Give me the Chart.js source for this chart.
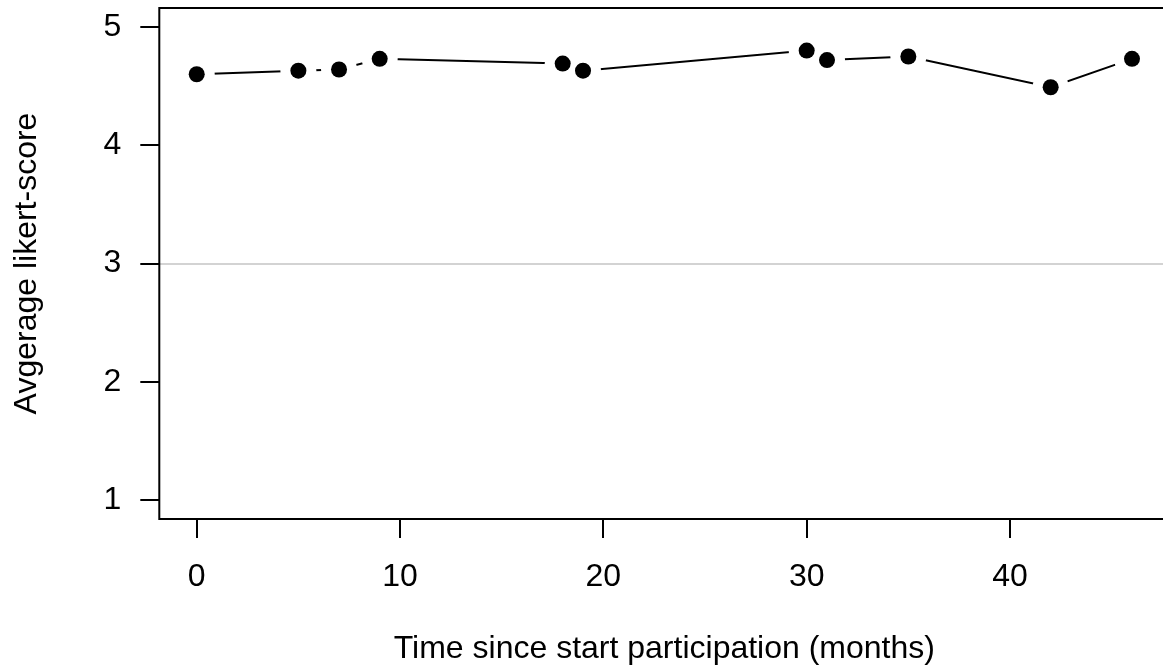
<!DOCTYPE html>
<html>
<head>
<meta charset="utf-8">
<script src="https://cdn.jsdelivr.net/npm/chart.js@4.4.1/dist/chart.umd.min.js"></script>
<style>
  html, body { margin: 0; padding: 0; background: #fff; overflow: hidden; }
  canvas { display: block; }
</style>
</head>
<body>
<canvas id="chart" width="1176" height="668"></canvas>
<script>
// months since start and the average likert score at each visit
const months = [0, 5, 7, 9, 18, 19, 30, 31, 35, 42, 46];
const scores = [4.60, 4.63, 4.64, 4.73, 4.69, 4.63, 4.80, 4.72, 4.75, 4.49, 4.73];
const xTicks = [0, 10, 20, 30, 40];
const yTicks = [1, 2, 3, 4, 5];

const points = months.map((m, i) => ({ x: m, y: scores[i] }));

Chart.defaults.font.family = "'Liberation Sans', Arial, Helvetica, sans-serif";
Chart.defaults.color = "#000";

// box round the plot region, like R's box()
const boxPlugin = {
  id: "box",
  afterDatasetsDraw(chart) {
    const { ctx, chartArea: a } = chart;
    ctx.save();
    ctx.strokeStyle = "#000";
    ctx.lineWidth = 2;
    ctx.strokeRect(a.left, a.top, a.right - a.left, a.bottom - a.top);
    ctx.restore();
  },
};

// no extra room for overhanging labels, the plot region is fixed
const noPad = (s) => {
  s.paddingTop = 0;
  s.paddingBottom = 0;
  s.paddingLeft = 0;
  s.paddingRight = 0;
};

const tickFont = { size: 32 };

new Chart(document.getElementById("chart"), {
  type: "line",
  data: {
    datasets: [
      {
        // the dots
        data: points,
        showLine: false,
        pointRadius: 8,
        pointBackgroundColor: "#000",
        pointBorderWidth: 0,
        order: 0,
      },
      {
        // line with white halos so it stops short of the dots (type = "b")
        data: points,
        borderColor: "#000",
        borderWidth: 2,
        tension: 0,
        pointRadius: 18,
        pointBackgroundColor: "#fff",
        pointBorderWidth: 0,
        order: 1,
      },
    ],
  },
  options: {
    responsive: false,
    animation: false,
    events: [],
    layout: { autoPadding: false, padding: { top: 8, right: 6.6, left: 0, bottom: 0 } },
    plugins: { legend: { display: false }, tooltip: { enabled: false } },
    scales: {
      x: {
        type: "linear",
        min: -1.84,
        max: 47.84,
        afterBuildTicks: (s) => { s.ticks = xTicks.map((v) => ({ value: v })); },
        afterFit: (s) => { s.height = 149; noPad(s); },
        border: { display: false },
        grid: { drawOnChartArea: false, tickLength: 19, tickColor: "#000", lineWidth: 2 },
        ticks: { font: tickFont, padding: 20, maxRotation: 0, color: "#000" },
        title: {
          display: true,
          text: "Time since start participation (months)",
          font: { size: 32 },
          padding: { top: 0, bottom: 0 },
          color: "#000",
        },
      },
      y: {
        type: "linear",
        min: 0.84,
        max: 5.16,
        afterBuildTicks: (s) => { s.ticks = yTicks.map((v) => ({ value: v })); },
        afterFit: (s) => { s.width = 159.3; noPad(s); },
        border: { display: false },
        grid: {
          color: (c) => (c.tick && c.tick.value === 3 ? "#d3d3d3" : "rgba(0,0,0,0)"),
          tickColor: "#000",
          tickLength: 19,
          lineWidth: 2,
        },
        ticks: { font: tickFont, padding: 19, color: "#000" },
        title: {
          display: true,
          text: "Avgerage likert-score",
          font: { size: 32 },
          padding: { top: 8, bottom: 0 },
          color: "#000",
        },
      },
    },
  },
  plugins: [boxPlugin],
});
</script>
</body>
</html>
